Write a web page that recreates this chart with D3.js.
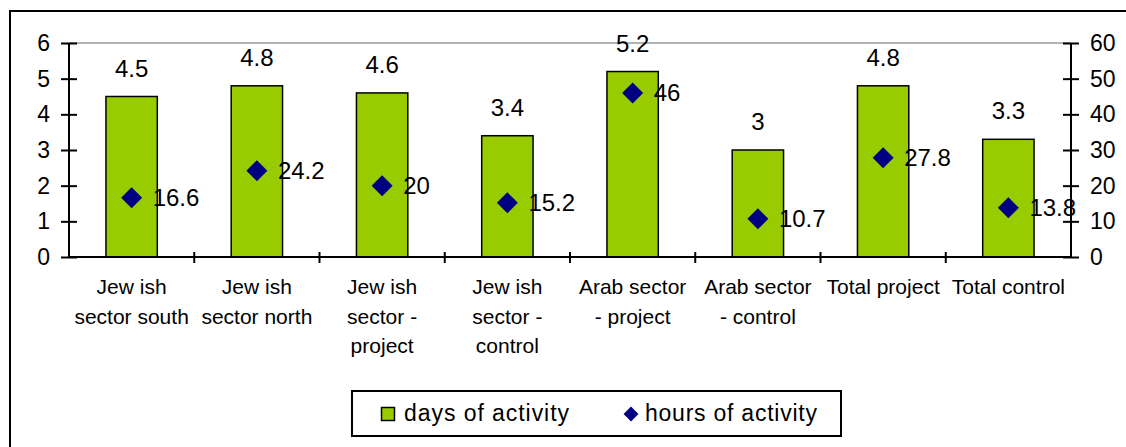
<!DOCTYPE html>
<html><head><meta charset="utf-8">
<script src="https://cdn.jsdelivr.net/npm/d3@7"></script>
<style>body{margin:0;background:#fff}svg{display:block}text{font-family:"Liberation Sans",Arial,sans-serif;fill:#000}</style>
</head><body><svg id="c" width="1126" height="447"></svg>
<script>
const categories = [
  ["Jew ish","sector south"],
  ["Jew ish","sector north"],
  ["Jew ish","sector -","project"],
  ["Jew ish","sector -","control"],
  ["Arab sector","- project"],
  ["Arab sector","- control"],
  ["Total project"],
  ["Total control"]
];
const days = [4.5, 4.8, 4.6, 3.4, 5.2, 3, 4.8, 3.3];
const hours = [16.6, 24.2, 20, 15.2, 46, 10.7, 27.8, 13.8];
const leftTicks = [0,1,2,3,4,5,6];
const rightTicks = [0,10,20,30,40,50,60];
const seriesNames = ["days of activity","hours of activity"];

const svg = d3.select("#c");
const x0 = 69, x1 = 1071, yTop = 43, yBot = 257;

// outer frame
svg.append("rect").attr("x",10).attr("y",11).attr("width",1130).attr("height",460)
  .attr("fill","none").attr("stroke","#000").attr("stroke-width",2);

const x = d3.scaleBand().domain(d3.range(categories.length)).range([x0,x1])
  .paddingInner(0.59).paddingOuter(0.295);
const step = x.step();
const yL = d3.scaleLinear().domain([0,6]).range([yBot,yTop]);
const yR = d3.scaleLinear().domain([0,60]).range([yBot,yTop]);

// top gridline
svg.append("line").attr("x1",x0).attr("x2",x1).attr("y1",yL(6)).attr("y2",yL(6))
  .attr("stroke","#999").attr("stroke-width",1.5);

// bars
svg.selectAll("rect.bar").data(days).join("rect").attr("class","bar")
  .attr("x",(d,i)=>x(i)).attr("width",x.bandwidth())
  .attr("y",d=>yL(d)).attr("height",d=>yBot-yL(d))
  .attr("fill","#99CC00").attr("stroke","#000").attr("stroke-width",1.5);

// axes
const axL = d3.axisLeft(yL).tickValues(leftTicks).tickSize(8).tickFormat(d3.format("d"));
const gL = svg.append("g").attr("transform",`translate(${x0},0)`).call(axL);
const axR = d3.axisRight(yR).tickValues(rightTicks).tickSize(8).tickFormat(d3.format("d"));
const gR = svg.append("g").attr("transform",`translate(${x1},0)`).call(axR);
[gL,gR].forEach(g=>{
  g.select(".domain").attr("stroke","#000").attr("stroke-width",2).attr("d",`M0,${yTop}V${yBot}`);
  g.selectAll(".tick line").attr("stroke","#000").attr("stroke-width",2);
  g.selectAll(".tick text").style("font-family",'"Liberation Sans",Arial,sans-serif').style("font-size","23px").attr("fill","#000");
});
gL.selectAll(".tick line").attr("x1",8).attr("x2",-8);
gL.selectAll(".tick text").attr("x",-19);
gR.selectAll(".tick line").attr("x1",-8).attr("x2",8);
gR.selectAll(".tick text").attr("x",19);

// x axis line + category ticks
svg.append("line").attr("x1",x0).attr("x2",x1).attr("y1",yBot).attr("y2",yBot)
  .attr("stroke","#000").attr("stroke-width",2);
const bounds = d3.range(1,categories.length).map(i=>x0+i*step);
svg.selectAll("line.ct").data(bounds).join("line").attr("class","ct")
  .attr("x1",d=>d).attr("x2",d=>d).attr("y1",yBot-5).attr("y2",yBot+6)
  .attr("stroke","#000").attr("stroke-width",2);

// category labels
categories.forEach((lines,i)=>{
  const cx = x(i)+x.bandwidth()/2;
  lines.forEach((ln,j)=>{
    svg.append("text").attr("x",cx).attr("y",294+j*29.5).attr("text-anchor","middle")
      .style("font-size","21px").text(ln);
  });
});

// bar value labels
svg.selectAll("text.dl").data(days).join("text").attr("class","dl")
  .attr("x",(d,i)=>x(i)+x.bandwidth()/2).attr("y",d=>yL(d)-20)
  .attr("text-anchor","middle").style("font-size","24px").text(d=>d);

// diamonds
const sym = d3.symbol().type(d3.symbolSquare).size(220);
svg.selectAll("path.dm").data(hours).join("path").attr("class","dm")
  .attr("d",sym)
  .attr("transform",(d,i)=>`translate(${x(i)+x.bandwidth()/2},${yR(d)}) rotate(45)`)
  .attr("fill","#000080");
svg.selectAll("text.hl").data(hours).join("text").attr("class","hl")
  .attr("x",(d,i)=>x(i)+x.bandwidth()/2+21).attr("y",d=>yR(d)+8.5)
  .style("font-size","24px").text(d=>d);

// legend
const lg = svg.append("g");
lg.append("rect").attr("x",352).attr("y",391).attr("width",489).attr("height",45)
  .attr("fill","#fff").attr("stroke","#000").attr("stroke-width",2);
lg.append("rect").attr("x",381.5).attr("y",407.5).attr("width",13).attr("height",13)
  .attr("fill","#99CC00").attr("stroke","#000").attr("stroke-width",1.5);
lg.append("text").attr("x",404).attr("y",421).style("font-size","23px")
  .attr("textLength",165).attr("lengthAdjust","spacing").text(seriesNames[0]);
lg.append("path").attr("d",d3.symbol().type(d3.symbolSquare).size(110))
  .attr("transform","translate(631,414) rotate(45)").attr("fill","#000080");
lg.append("text").attr("x",645).attr("y",421).style("font-size","23px")
  .attr("textLength",172).attr("lengthAdjust","spacing").text(seriesNames[1]);
</script></body></html>
